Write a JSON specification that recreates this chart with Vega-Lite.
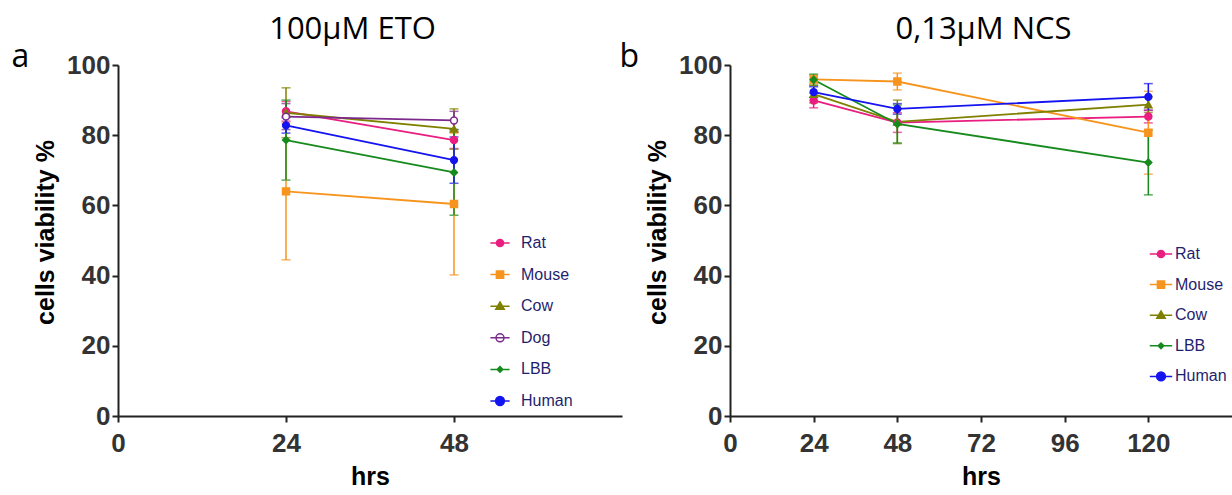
{
  "$schema": "https://vega.github.io/schema/vega-lite/v6.json",
  "padding": {"left": 11, "top": 13, "right": 0, "bottom": 0},
  "bounds": "flush",
  "spacing": 108,
  "config": {
    "font": "Liberation Sans",
    "view": {"stroke": null},
    "axis": {
      "grid": false,
      "domainColor": "#222222",
      "domainWidth": 2,
      "tickColor": "#222222",
      "tickWidth": 2,
      "tickSize": 6,
      "labelFont": "Liberation Sans",
      "labelFontWeight": "bold",
      "labelFontSize": 26,
      "labelColor": "#333333",
      "titleFont": "Liberation Sans",
      "titleFontWeight": "bold",
      "titleFontSize": 25,
      "titleColor": "#000000"
    }
  },
  "datasets": {
    "eto": [
      {"sp": "Rat", "t": 24, "v": 86.8, "lo": 84.0, "hi": 89.6},
      {"sp": "Rat", "t": 48, "v": 78.6, "lo": 76.2, "hi": 81.0},
      {"sp": "Mouse", "t": 24, "v": 64.0, "lo": 44.5, "hi": 83.5},
      {"sp": "Mouse", "t": 48, "v": 60.4, "lo": 40.2, "hi": 80.6},
      {"sp": "Cow", "t": 24, "v": 86.4, "lo": 79.3, "hi": 93.5},
      {"sp": "Cow", "t": 48, "v": 81.8, "lo": 76.0, "hi": 87.5},
      {"sp": "Dog", "t": 24, "v": 85.3, "lo": 81.6, "hi": 89.0},
      {"sp": "Dog", "t": 48, "v": 84.2, "lo": 81.6, "hi": 86.8},
      {"sp": "LBB", "t": 24, "v": 78.6, "lo": 67.2, "hi": 90.0},
      {"sp": "LBB", "t": 48, "v": 69.4, "lo": 57.2, "hi": 81.6},
      {"sp": "Human", "t": 24, "v": 82.8, "lo": 80.6, "hi": 85.0},
      {"sp": "Human", "t": 48, "v": 72.9, "lo": 66.3, "hi": 79.5}
    ],
    "ncs": [
      {"sp": "Rat", "t": 24, "v": 89.9, "lo": 87.8, "hi": 92.0},
      {"sp": "Rat", "t": 48, "v": 83.6, "lo": 80.8, "hi": 86.4},
      {"sp": "Rat", "t": 120, "v": 85.3, "lo": 83.5, "hi": 87.1},
      {"sp": "Mouse", "t": 24, "v": 95.9, "lo": 94.7, "hi": 97.1},
      {"sp": "Mouse", "t": 48, "v": 95.3, "lo": 92.9, "hi": 97.7},
      {"sp": "Mouse", "t": 120, "v": 80.7, "lo": 68.9, "hi": 92.5},
      {"sp": "Cow", "t": 24, "v": 91.7, "lo": 89.2, "hi": 94.2},
      {"sp": "Cow", "t": 48, "v": 83.8, "lo": 77.6, "hi": 90.0},
      {"sp": "Cow", "t": 120, "v": 88.7, "lo": 86.5, "hi": 90.9},
      {"sp": "LBB", "t": 24, "v": 95.8, "lo": 94.2, "hi": 97.4},
      {"sp": "LBB", "t": 48, "v": 83.2, "lo": 77.8, "hi": 88.6},
      {"sp": "LBB", "t": 120, "v": 72.2, "lo": 63.0, "hi": 81.4},
      {"sp": "Human", "t": 24, "v": 92.3, "lo": 90.8, "hi": 93.8},
      {"sp": "Human", "t": 48, "v": 87.5, "lo": 86.0, "hi": 89.0},
      {"sp": "Human", "t": 120, "v": 90.9, "lo": 87.1, "hi": 94.7}
    ]
  },
  "resolve": {
    "scale": {"color": "independent", "stroke": "independent", "fill": "independent", "shape": "independent", "size": "independent"}
  },
  "hconcat": [
    {
      "width": 504,
      "height": 351,
      "data": {"name": "eto"},
      "layer": [
        {
          "mark": {"type": "errorbar", "ticks": true, "thickness": 1.5, "size": 9},
          "encoding": {
            "x": {"field": "t", "type": "quantitative", "scale": {"domain": [0, 72], "nice": false}, "axis": null},
            "y": {"field": "lo", "type": "quantitative", "scale": {"domain": [0, 100], "nice": false}, "axis": null},
            "y2": {"field": "hi"},
            "color": {"field": "sp", "type": "nominal", "legend": null,
              "scale": {"domain": ["Human", "LBB", "Dog", "Cow", "Mouse", "Rat"], "range": ["#1414f0", "#178a1e", "#7b2a8c", "#808000", "#f7941d", "#e91e80"]}}
          }
        },
        {
          "mark": {"type": "line", "strokeWidth": 1.8},
          "encoding": {
            "x": {"field": "t", "type": "quantitative", "scale": {"domain": [0, 72], "nice": false},
              "axis": {"orient": "bottom", "title": "hrs", "values": [0, 24, 48], "labelPadding": 8, "titlePadding": 8, "labelFlush": false}},
            "y": {"field": "v", "type": "quantitative", "scale": {"domain": [0, 100], "nice": false},
              "axis": {"orient": "left", "title": "cells viability %", "values": [0, 20, 40, 60, 80, 100], "labelPadding": 2, "titlePadding": 8, "titleY": 167}},
            "stroke": {"field": "sp", "type": "nominal",
              "scale": {"domain": ["Rat", "Mouse", "Cow", "Dog", "LBB", "Human"], "range": ["#e91e80", "#f7941d", "#808000", "#7b2a8c", "#178a1e", "#1414f0"]},
              "legend": {
                "orient": "none", "legendX": 374, "legendY": 170, "title": null, "padding": 0,
                "rowPadding": 15.6, "labelOffset": 13, "labelFontSize": 16, "labelFont": "Liberation Sans", "labelColor": "#1f1f6e",
                "symbolSize": 64, "symbolStrokeWidth": 1.5,
                "encode": {"symbols": {"update": {
                  "shape": {"signal": "['M-2.4,0H2.4M0.9,0A0.9,0.9,0,1,1,-0.9,0A0.9,0.9,0,1,1,0.9,0Z','M-2.4,0H2.4M-0.9,-0.9H0.9V0.9H-0.9Z','M-2.4,0H2.4M0,-1.05L1.05,0.75H-1.05Z','M-2.4,0H2.4M1,0A1,1,0,1,1,-1,0A1,1,0,1,1,1,0Z','M-2.4,0H2.4M0,-0.7L0.7,0L0,0.7L-0.7,0Z','M-2.4,0H2.4M1.1,0A1.1,1.1,0,1,1,-1.1,0A1.1,1.1,0,1,1,1.1,0Z'][indexof(['Rat','Mouse','Cow','Dog','LBB','Human'], datum.value)]"},
                  "fill": {"signal": "datum.value === 'Dog' ? '#ffffff' : ['#e91e80','#f7941d','#808000','#7b2a8c','#178a1e','#1414f0'][indexof(['Rat','Mouse','Cow','Dog','LBB','Human'], datum.value)]"},
                  "stroke": {"signal": "['#e91e80','#f7941d','#808000','#7b2a8c','#178a1e','#1414f0'][indexof(['Rat','Mouse','Cow','Dog','LBB','Human'], datum.value)]"},
                  "size": {"value": 64},
                  "strokeWidth": {"value": 1.5},
                  "opacity": {"value": 1}
                }}}
              }}
          }
        },
        {
          "mark": {"type": "point", "filled": true, "strokeWidth": 1.5, "opacity": 1},
          "encoding": {
            "x": {"field": "t", "type": "quantitative", "scale": {"domain": [0, 72], "nice": false},
              "axis": {"orient": "top", "domain": false, "ticks": false, "labels": false, "title": "100μM ETO",
                "titleFont": "Open Sans", "titleFontWeight": "normal", "titleFontSize": 31, "titleColor": "#000000",
                "titleX": 234, "titleY": -27, "titleAlign": "center", "titleBaseline": "alphabetic", "titleAngle": 0}},
            "y": {"field": "v", "type": "quantitative", "scale": {"domain": [0, 100], "nice": false},
              "axis": {"orient": "right", "domain": false, "ticks": false, "labels": false, "title": "a",
                "titleFont": "Open Sans", "titleFontWeight": "normal", "titleFontSize": 32, "titleColor": "#000000",
                "titleX": -611, "titleY": 1, "titleAlign": "left", "titleBaseline": "alphabetic", "titleAngle": 0}},
            "stroke": {"field": "sp", "type": "nominal",
              "scale": {"domain": ["Rat", "Mouse", "Cow", "Dog", "LBB", "Human"], "range": ["#e91e80", "#f7941d", "#808000", "#7b2a8c", "#178a1e", "#1414f0"]}},
            "fill": {"field": "sp", "type": "nominal", "legend": null,
              "scale": {"domain": ["Human", "LBB", "Dog", "Cow", "Mouse", "Rat"], "range": ["#1414f0", "#178a1e", "#ffffff", "#808000", "#f7941d", "#e91e80"]}},
            "shape": {"field": "sp", "type": "nominal", "legend": null,
              "scale": {"domain": ["Mouse", "Rat", "Cow", "Dog", "LBB", "Human"], "range": ["square", "circle", "triangle-up", "circle", "diamond", "circle"]}},
            "size": {"field": "sp", "type": "nominal", "legend": null,
              "scale": {"domain": ["Cow", "Rat", "Mouse", "Dog", "LBB", "Human"], "range": [50, 46, 46, 56, 22, 66]}}
          }
        }
      ]
    },
    {
      "width": 502,
      "height": 351,
      "data": {"name": "ncs"},
      "layer": [
        {
          "mark": {"type": "errorbar", "ticks": true, "thickness": 1.5, "size": 9},
          "encoding": {
            "x": {"field": "t", "type": "quantitative", "scale": {"domain": [0, 144], "nice": false}, "axis": null},
            "y": {"field": "lo", "type": "quantitative", "scale": {"domain": [0, 100], "nice": false}, "axis": null},
            "y2": {"field": "hi"},
            "color": {"field": "sp", "type": "nominal", "legend": null,
              "scale": {"domain": ["Human", "LBB", "Cow", "Mouse", "Rat"], "range": ["#1414f0", "#178a1e", "#808000", "#f7941d", "#e91e80"]}}
          }
        },
        {
          "mark": {"type": "line", "strokeWidth": 1.8},
          "encoding": {
            "x": {"field": "t", "type": "quantitative", "scale": {"domain": [0, 144], "nice": false},
              "axis": {"orient": "bottom", "title": "hrs", "values": [0, 24, 48, 72, 96, 120], "labelPadding": 8, "titlePadding": 8, "labelFlush": false}},
            "y": {"field": "v", "type": "quantitative", "scale": {"domain": [0, 100], "nice": false},
              "axis": {"orient": "left", "title": "cells viability %", "values": [0, 20, 40, 60, 80, 100], "labelPadding": 2, "titlePadding": 8, "titleY": 167}},
            "stroke": {"field": "sp", "type": "nominal",
              "scale": {"domain": ["Rat", "Mouse", "Cow", "LBB", "Human"], "range": ["#e91e80", "#f7941d", "#808000", "#178a1e", "#1414f0"]},
              "legend": {
                "orient": "none", "legendX": 423, "legendY": 181, "title": null, "padding": 0,
                "rowPadding": 14.6, "labelOffset": 6, "labelFontSize": 16, "labelFont": "Liberation Sans", "labelColor": "#1f1f6e",
                "symbolSize": 64, "symbolStrokeWidth": 1.5,
                "encode": {"symbols": {"update": {
                  "shape": {"signal": "['M-2.8,0H2.8M0.9,0A0.9,0.9,0,1,1,-0.9,0A0.9,0.9,0,1,1,0.9,0Z','M-2.8,0H2.8M-0.9,-0.9H0.9V0.9H-0.9Z','M-2.8,0H2.8M0,-1.05L1.05,0.75H-1.05Z','M-2.8,0H2.8M1,0A1,1,0,1,1,-1,0A1,1,0,1,1,1,0Z','M-2.8,0H2.8M0,-0.7L0.7,0L0,0.7L-0.7,0Z','M-2.8,0H2.8M1.1,0A1.1,1.1,0,1,1,-1.1,0A1.1,1.1,0,1,1,1.1,0Z'][indexof(['Rat','Mouse','Cow','Dog','LBB','Human'], datum.value)]"},
                  "fill": {"signal": "['#e91e80','#f7941d','#808000','#7b2a8c','#178a1e','#1414f0'][indexof(['Rat','Mouse','Cow','Dog','LBB','Human'], datum.value)]"},
                  "stroke": {"signal": "['#e91e80','#f7941d','#808000','#7b2a8c','#178a1e','#1414f0'][indexof(['Rat','Mouse','Cow','Dog','LBB','Human'], datum.value)]"},
                  "size": {"value": 64},
                  "strokeWidth": {"value": 1.5},
                  "opacity": {"value": 1}
                }}}
              }}
          }
        },
        {
          "mark": {"type": "point", "filled": true, "strokeWidth": 1.5, "opacity": 1},
          "encoding": {
            "x": {"field": "t", "type": "quantitative", "scale": {"domain": [0, 144], "nice": false},
              "axis": {"orient": "top", "domain": false, "ticks": false, "labels": false, "title": "0,13μM NCS",
                "titleFont": "Open Sans", "titleFontWeight": "normal", "titleFontSize": 31, "titleColor": "#000000",
                "titleX": 253, "titleY": -27, "titleAlign": "center", "titleBaseline": "alphabetic", "titleAngle": 0}},
            "y": {"field": "v", "type": "quantitative", "scale": {"domain": [0, 100], "nice": false},
              "axis": {"orient": "right", "domain": false, "ticks": false, "labels": false, "title": "b",
                "titleFont": "Open Sans", "titleFontWeight": "normal", "titleFontSize": 32, "titleColor": "#000000",
                "titleX": -613, "titleY": 1, "titleAlign": "left", "titleBaseline": "alphabetic", "titleAngle": 0}},
            "stroke": {"field": "sp", "type": "nominal",
              "scale": {"domain": ["Rat", "Mouse", "Cow", "LBB", "Human"], "range": ["#e91e80", "#f7941d", "#808000", "#178a1e", "#1414f0"]}},
            "fill": {"field": "sp", "type": "nominal", "legend": null,
              "scale": {"domain": ["Human", "LBB", "Cow", "Mouse", "Rat"], "range": ["#1414f0", "#178a1e", "#808000", "#f7941d", "#e91e80"]}},
            "shape": {"field": "sp", "type": "nominal", "legend": null,
              "scale": {"domain": ["Mouse", "Rat", "Cow", "LBB", "Human"], "range": ["square", "circle", "triangle-up", "diamond", "circle"]}},
            "size": {"field": "sp", "type": "nominal", "legend": null,
              "scale": {"domain": ["Cow", "Rat", "Mouse", "LBB", "Human"], "range": [50, 46, 46, 22, 66]}}
          }
        }
      ]
    }
  ]
}
